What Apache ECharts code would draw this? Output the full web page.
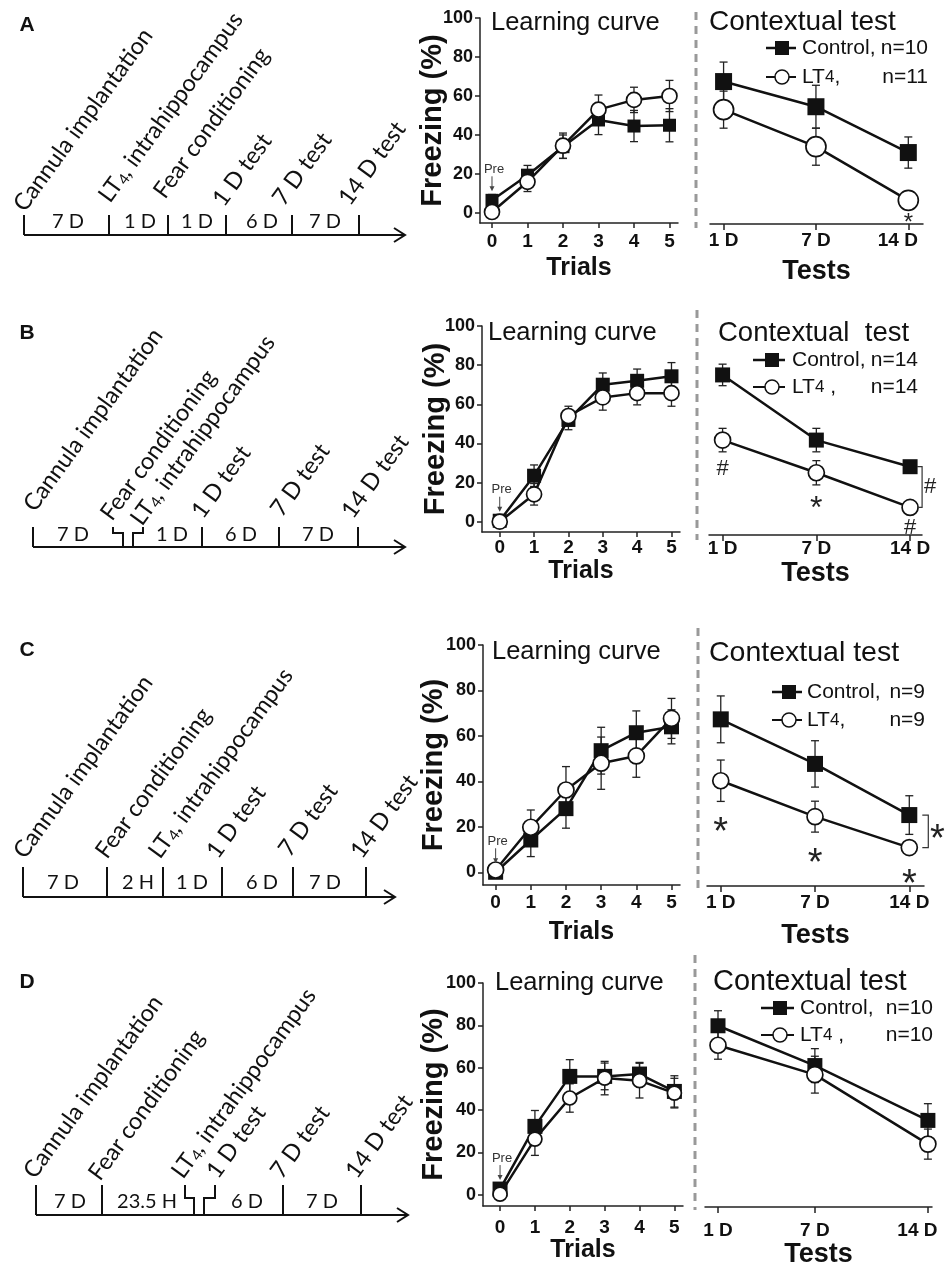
<!DOCTYPE html>
<html>
<head>
<meta charset="utf-8">
<script src="https://cdn.jsdelivr.net/npm/echarts@6/dist/echarts.min.js"></script>
<style>
html, body { margin: 0; padding: 0; background: #fff; }
#main { width: 945px; height: 1267px; }
</style>
</head>
<body>
<div id="main"></div>
<script>
// shared categories
const trials = [0, 1, 2, 3, 4, 5]
const yTicks = [0, 20, 40, 60, 80, 100]
const testLabels = ['1 D', '7 D', '14 D']
const testIdx = [0, 1, 2]
const testDays = [1, 7, 14]

// A
const learnCtrlA = [6.5, 19.4, 34, 47.7, 44.6, 45]
const learnCtrlSemA = [3, 5, 6, 7.5, 8, 8.5]
const learnLt4A = [0.5, 16, 34.5, 53, 58, 60]
const learnLt4SemA = [2, 5, 6.5, 7.5, 6.5, 8]
const testCtrlA = [67.4, 54.5, 31]
const testCtrlSemA = [10, 11, 8]
const testLt4A = [53, 34, 6.5]
const testLt4SemA = [9.5, 9.5, 3]
const sigA = ['', '', '*']
const nA = [10, 11]
const eventsA = ['Cannula implantation', 'LT4, intrahippocampus', 'Fear conditioning', '1 D test', '7 D test', '14 D test']
const spansA = ['7 D', '1 D', '1 D', '6 D', '7 D']

// B
const learnCtrlB = [0.5, 23.5, 52, 70, 72, 74.3]
const learnCtrlSemB = [2, 5.5, 5, 6, 6, 7]
const learnLt4B = [0, 14, 54, 63.5, 65.7, 65.7]
const learnLt4SemB = [2, 5.5, 5, 6.5, 6, 6.7]
const testCtrlB = [75, 41.7, 28.1]
const testCtrlSemB = [5.5, 6, 2]
const testLt4B = [41.7, 25, 7.3]
const testLt4SemB = [6, 6.2, 2]
const sigB = ['#', '*', '#']
const nB = [14, 14]
const eventsB = ['Cannula implantation', 'Fear conditioning', 'LT4, intrahippocampus', '1 D test', '7 D test', '14 D test']
const spansB = ['7 D', '1 D', '6 D', '7 D']

// C
const learnCtrlC = [0, 14.2, 28, 53.5, 61.4, 64]
const learnCtrlSemC = [2, 7.3, 8.6, 10.3, 9.6, 7.5]
const learnLt4C = [1, 19.8, 36.2, 48, 51.2, 67.7]
const learnLt4SemC = [2, 7.6, 10.3, 11.5, 9.4, 8.8]
const testCtrlC = [67.3, 47.7, 25.2]
const testCtrlSemC = [10.3, 10.2, 8.5]
const testLt4C = [40.3, 24.5, 10.9]
const testLt4SemC = [9.1, 6.8, 2.5]
const sigC = ['*', '*', '*']
const nC = [9, 9]
const eventsC = ['Cannula implantation', 'Fear conditioning', 'LT4, intrahippocampus', '1 D test', '7 D test', '14 D test']
const spansC = ['7 D', '2 H', '1 D', '6 D', '7 D']

// D
const learnCtrlD = [2.7, 32.3, 55.9, 55.9, 57, 48.8]
const learnCtrlSemD = [2, 7.5, 7.9, 6.3, 5.5, 7.4]
const learnLt4D = [0.3, 26.3, 45.7, 55.1, 53.9, 48]
const learnLt4SemD = [2, 7.7, 6.7, 7.9, 8.2, 7]
const testCtrlD = [79.8, 61, 35.1]
const testCtrlSemD = [7.1, 8, 7.9]
const testLt4D = [70.6, 56.7, 23.9]
const testLt4SemD = [6.6, 8.7, 7.1]
const nD = [10, 10]
const eventsD = ['Cannula implantation', 'Fear conditioning', 'LT4, intrahippocampus', '1 D test', '7 D test', '14 D test']
const spansD = ['7 D', '23.5 H', '6 D', '7 D']

const FONT = '"Liberation Sans", Arial, sans-serif'
const TL_FONT = 'Lato, "Open Sans", sans-serif'
const INK = '#111'
const ANG = 54 * Math.PI / 180

// layout of each row (pixels)
const layoutA = {
  letter: [27, 25],
  learn: { left: 480, top: 18, width: 198, height: 205, xMin: -0.338, xMax: 5.24, yMin: -5.13, margin: 9, nameGap: 33, yNameGap: 33 },
  test: { left: 710, top: 18, width: 213, height: 206, xMin: -0.147, xMax: 2.159, yMin: -5.64, margin: 7, nameGap: 34, lastPad: 21 },
  sym: { lSq: 13, lCi: 15, tSq: 17, tCi: 20 },
  sig: { gap: 11, star: 24 },
  titles: { learn: [491, 23, 25.5], test: [709, 22, 28, 'Contextual test'] },
  dash: [696, 12, 228],
  legend: { x1: 766, x2: 796, xs: 782, y1: 48, y2: 77, tx: 802, rx: 928, lt: 'LT4,' },
  tl: { y: 235, x0: 24, xEnd: 405, top: 215, ticks: [24, 109, 168, 226, 292, 359], breaks: [], spanX: [68, 140, 197, 262, 325], spanY: 222,
    ev: [[25, 213], [110, 204], [165, 200], [224, 208], [284, 207], [350, 207]] }
}
const layoutB = {
  letter: [27, 333],
  learn: { left: 482, top: 326, width: 198, height: 206, xMin: -0.516, xMax: 5.248, yMin: -5.26, margin: 6, nameGap: 27, yNameGap: 32 },
  test: { left: 709, top: 326, width: 213, height: 209, xMin: -0.145, xMax: 2.127, yMin: -6.8, margin: 4, nameGap: 25, lastPad: 0 },
  sym: { lSq: 14, lCi: 15, tSq: 15, tCi: 16 },
  sig: { gap: 17, star: 32 },
  bracket: { text: '#', dx: 12, arm: 5, tdx: 20 },
  titles: { learn: [488, 333, 25.5], test: [718, 333, 27.5, 'Contextual  test'] },
  dash: [697, 310, 540],
  legend: { x1: 753, x2: 785, xs: 772, y1: 360, y2: 387, tx: 792, rx: 918, lt: 'LT4 ,' },
  tl: { y: 547, x0: 33, xEnd: 405, top: 527, ticks: [33, 202, 279, 358], breaks: [[113, 123, 133, 143]], breakY: 533, spanX: [73, 172, 241, 318], spanY: 535,
    ev: [[35, 513], [112, 522], [142, 527], [203, 520], [282, 518], [353, 520]] }
}
const layoutC = {
  letter: [27, 650],
  learn: { left: 483, top: 645, width: 197, height: 240, xMin: -0.359, xMax: 5.242, yMin: -5.6, margin: 8, nameGap: 35, yNameGap: 34.5 },
  test: { left: 707, top: 645, width: 217, height: 241, xMin: -0.146, xMax: 2.156, yMin: -6.0, margin: 7, nameGap: 36, lastPad: 0 },
  sym: { lSq: 15, lCi: 16, tSq: 16, tCi: 16 },
  sig: { gap: 23, star: 38 },
  bracket: { text: '*', dx: 19, arm: 6, tdx: 28 },
  titles: { learn: [492, 652, 25.5], test: [709, 653, 28.5, 'Contextual test'] },
  dash: [698, 628, 890],
  legend: { x1: 772, x2: 802, xs: 789, y1: 692, y2: 720, tx: 807, rx: 925, lt: 'LT4,' },
  tl: { y: 897, x0: 23, xEnd: 395, top: 867, ticks: [23, 107, 163, 222, 293, 366], breaks: [], spanX: [63, 138, 192, 262, 325], spanY: 883,
    ev: [[25, 860], [107, 860], [160, 860], [218, 860], [290, 858], [362, 860]] }
}
const layoutD = {
  letter: [27, 982],
  learn: { left: 483, top: 983, width: 200, height: 223, xMin: -0.489, xMax: 5.247, yMin: -5.3, margin: 12, nameGap: 32, yNameGap: 34.5 },
  test: { left: 705, top: 983, width: 227, height: 224, xMin: 0.195, xMax: 14.254, yMin: -5.8, margin: 14, nameGap: 32, lastPad: 21 },
  sym: { lSq: 15, lCi: 14, tSq: 15, tCi: 16 },
  titles: { learn: [495, 983, 25.5], test: [713, 982, 29, 'Contextual test'] },
  dash: [695, 955, 1210],
  legend: { x1: 761, x2: 794, xs: 780, y1: 1008, y2: 1035, tx: 800, rx: 933, lt: 'LT4 ,' },
  tl: { y: 1215, x0: 36, xEnd: 408, top: 1185, ticks: [36, 102, 283, 361], breaks: [[185, 194, 204, 215]], breakY: 1198, spanX: [70, 147, 247, 322], spanY: 1202,
    ev: [[35, 1180], [100, 1182], [183, 1180], [218, 1180], [282, 1180], [357, 1180]] }
}

const panels = [
  { name: 'A', lc: learnCtrlA, lcs: learnCtrlSemA, ll: learnLt4A, lls: learnLt4SemA, tc: testCtrlA, tcs: testCtrlSemA, tl: testLt4A, tls: testLt4SemA, tx: testIdx, sig: sigA, n: nA, events: eventsA, spans: spansA, L: layoutA },
  { name: 'B', lc: learnCtrlB, lcs: learnCtrlSemB, ll: learnLt4B, lls: learnLt4SemB, tc: testCtrlB, tcs: testCtrlSemB, tl: testLt4B, tls: testLt4SemB, tx: testIdx, sig: sigB, n: nB, events: eventsB, spans: spansB, L: layoutB },
  { name: 'C', lc: learnCtrlC, lcs: learnCtrlSemC, ll: learnLt4C, lls: learnLt4SemC, tc: testCtrlC, tcs: testCtrlSemC, tl: testLt4C, tls: testLt4SemC, tx: testIdx, sig: sigC, n: nC, events: eventsC, spans: spansC, L: layoutC },
  { name: 'D', lc: learnCtrlD, lcs: learnCtrlSemD, ll: learnLt4D, lls: learnLt4SemD, tc: testCtrlD, tcs: testCtrlSemD, tl: testLt4D, tls: testLt4SemD, tx: testDays, sig: null, n: nD, events: eventsD, spans: spansD, L: layoutD }
]

const axisLine = { color: '#222', width: 1.5 }
const boldText = (size) => ({ fontFamily: FONT, fontWeight: 'bold', fontSize: size, color: INK })
const ltRich = (t) => t.replace('LT4', 'LT{sub|4}')

function errorBars (params, api) {
  const x = api.value(0)
  const v = api.value(1)
  const e = api.value(2)
  const hi = api.coord([x, v + e])
  const lo = api.coord([x, v - e])
  const cap = 4
  const style = { stroke: '#222', lineWidth: 1.3 }
  return {
    type: 'group',
    children: [
      { type: 'line', shape: { x1: hi[0], y1: hi[1], x2: lo[0], y2: lo[1] }, style },
      { type: 'line', shape: { x1: hi[0] - cap, y1: hi[1], x2: hi[0] + cap, y2: hi[1] }, style },
      { type: 'line', shape: { x1: lo[0] - cap, y1: lo[1], x2: lo[0] + cap, y2: lo[1] }, style }
    ]
  }
}

function errSeries (gi, xs, vals, sems) {
  return {
    type: 'custom', xAxisIndex: gi, yAxisIndex: gi, renderItem: errorBars, silent: true, clip: false, z: 2,
    encode: { x: 0, y: 1 },
    data: xs.map((x, i) => [x, vals[i], sems[i]])
  }
}

function lineSeries (name, gi, xs, vals, size, open) {
  return {
    type: 'line', name, xAxisIndex: gi, yAxisIndex: gi, silent: true, clip: false, z: 3,
    data: xs.map((x, i) => [x, vals[i]]),
    symbol: open ? 'circle' : 'rect',
    symbolSize: size,
    showAllSymbol: true,
    lineStyle: { color: INK, width: 2.5 },
    itemStyle: open ? { color: '#fff', borderColor: INK, borderWidth: 1.7 } : { color: INK }
  }
}

// "Pre" marker above trial 0
function preSeries (gi, v) {
  return {
    type: 'custom', xAxisIndex: gi, yAxisIndex: gi, silent: true, clip: false, z: 4,
    encode: { x: 0, y: 1 },
    data: [[trials[0], v]],
    renderItem (params, api) {
      const p = api.coord([api.value(0), api.value(1)])
      return {
        type: 'group',
        children: [
          { type: 'text', x: p[0] + 2, y: p[1] - 31, style: { text: 'Pre', fontFamily: FONT, fontSize: 13, fill: '#333', align: 'center', verticalAlign: 'middle' } },
          { type: 'line', shape: { x1: p[0], y1: p[1] - 24, x2: p[0], y2: p[1] - 12 }, style: { stroke: '#444', lineWidth: 1 } },
          { type: 'polygon', shape: { points: [[p[0] - 2.5, p[1] - 14], [p[0] + 2.5, p[1] - 14], [p[0], p[1] - 9]] }, style: { fill: '#444' } }
        ]
      }
    }
  }
}

// significance marks below the LT4 error bars
function sigSeries (gi, p) {
  const S = p.L.sig
  return {
    type: 'custom', xAxisIndex: gi, yAxisIndex: gi, silent: true, clip: false, z: 4,
    encode: { x: 0, y: 1 },
    data: p.tx.map((x, i) => [x, p.tl[i] - p.tls[i]]),
    renderItem (params, api) {
      const t = p.sig[params.dataIndex]
      const c = api.coord([api.value(0), api.value(1)])
      if (!t) return { type: 'group', children: [] }
      const star = t === '*'
      const fs = star ? S.star : 22
      return {
        type: 'text', x: c[0], y: c[1] + S.gap + (star ? fs * 0.24 : 0),
        style: { text: t, fontFamily: FONT, fontSize: fs, fill: '#222', align: 'center', verticalAlign: 'middle' }
      }
    }
  }
}

// bracket between the two 14 D points
function bracketSeries (gi, p) {
  const B = p.L.bracket
  const last = p.tx.length - 1
  return {
    type: 'custom', xAxisIndex: gi, yAxisIndex: gi, silent: true, clip: false, z: 4,
    encode: { x: 0, y: 1 },
    data: [[p.tx[last], p.tc[last], p.tl[last]]],
    renderItem (params, api) {
      const a = api.coord([api.value(0), api.value(1)])
      const b = api.coord([api.value(0), api.value(2)])
      const x = a[0] + B.dx
      const star = B.text === '*'
      const fs = star ? p.L.sig.star : 22
      return {
        type: 'group',
        children: [
          { type: 'polyline', shape: { points: [[x - B.arm, a[1]], [x, a[1]], [x, b[1]], [x - B.arm, b[1]]] }, style: { stroke: '#333', lineWidth: 1.2, fill: null } },
          { type: 'text', x: a[0] + B.tdx, y: (a[1] + b[1]) / 2 + (star ? fs * 0.24 : 0), style: { text: B.text, fontFamily: FONT, fontSize: fs, fill: '#222', align: 'center', verticalAlign: 'middle' } }
        ]
      }
    }
  }
}

function timeline (events, spans, T) {
  const s = { stroke: INK, lineWidth: 2, fill: null }
  const els = [
    { type: 'line', shape: { x1: T.x0, y1: T.y, x2: T.xEnd, y2: T.y }, style: s },
    { type: 'polyline', shape: { points: [[T.xEnd - 11, T.y - 7], [T.xEnd, T.y], [T.xEnd - 11, T.y + 7]] }, style: s }
  ]
  T.ticks.forEach(x => els.push({ type: 'line', shape: { x1: x, y1: T.y, x2: x, y2: T.top }, style: s }))
  T.breaks.forEach(b => {
    els.push({ type: 'polyline', shape: { points: [[b[0], T.top], [b[0], T.breakY], [b[1], T.breakY], [b[1], T.y]] }, style: s })
    els.push({ type: 'polyline', shape: { points: [[b[2], T.y], [b[2], T.breakY], [b[3], T.breakY], [b[3], T.top]] }, style: s })
  })
  spans.forEach((t, i) => els.push({
    type: 'text', x: T.spanX[i], y: T.spanY,
    style: { text: t, fontFamily: TL_FONT, fontSize: 20, fill: INK, align: 'center', verticalAlign: 'middle' }
  }))
  events.forEach((t, i) => els.push({
    type: 'text', x: T.ev[i][0] + 3.6, y: T.ev[i][1] + 2.6, rotation: ANG,
    style: {
      text: ltRich(t), fontFamily: TL_FONT, fontSize: 23.5, fill: INK, align: 'left', verticalAlign: 'bottom',
      rich: { sub: { fontFamily: TL_FONT, fontSize: 15, fill: INK, verticalAlign: 'bottom' } }
    }
  }))
  return els
}

function legend (n, G) {
  const txt = (x, y, text, align) => ({
    type: 'text', x, y,
    style: { text, fontFamily: FONT, fontSize: 21, fill: INK, align, verticalAlign: 'middle', rich: { sub: { fontFamily: FONT, fontSize: 17, fill: INK } } }
  })
  return [
    { type: 'line', shape: { x1: G.x1, y1: G.y1, x2: G.x2, y2: G.y1 }, style: { stroke: INK, lineWidth: 2.5 } },
    { type: 'rect', shape: { x: G.xs - 7, y: G.y1 - 7, width: 14, height: 14 }, style: { fill: INK } },
    txt(G.tx, G.y1, 'Control,', 'left'),
    txt(G.rx, G.y1, 'n=' + n[0], 'right'),
    { type: 'line', shape: { x1: G.x1, y1: G.y2, x2: G.x2, y2: G.y2 }, style: { stroke: INK, lineWidth: 2 } },
    { type: 'circle', shape: { cx: G.xs, cy: G.y2, r: 7 }, style: { fill: '#fff', stroke: INK, lineWidth: 1.5 } },
    txt(G.tx, G.y2, ltRich(G.lt), 'left'),
    txt(G.rx, G.y2, 'n=' + n[1], 'right')
  ]
}

const option = { animation: false, backgroundColor: '#fff', grid: [], xAxis: [], yAxis: [], series: [], graphic: [] }

panels.forEach((p, i) => {
  const gl = i * 2
  const gt = i * 2 + 1
  const L = p.L
  const last = p.tx[p.tx.length - 1]
  option.grid.push(
    { left: L.learn.left, top: L.learn.top, width: L.learn.width, height: L.learn.height, outerBoundsMode: 'none' },
    { left: L.test.left, top: L.test.top, width: L.test.width, height: L.test.height, outerBoundsMode: 'none' }
  )
  option.xAxis.push({
    type: 'value', gridIndex: gl, min: L.learn.xMin, max: L.learn.xMax,
    name: 'Trials', nameLocation: 'middle', nameGap: L.learn.nameGap, nameTextStyle: boldText(25),
    axisLine: { show: true, onZero: false, lineStyle: axisLine },
    axisTick: { show: true, customValues: trials, length: 5, lineStyle: axisLine },
    axisLabel: Object.assign({ customValues: trials, margin: L.learn.margin }, boldText(19)),
    splitLine: { show: false }
  }, {
    type: 'value', gridIndex: gt, min: L.test.xMin, max: L.test.xMax,
    name: 'Tests', nameLocation: 'middle', nameGap: L.test.nameGap, nameTextStyle: boldText(27),
    axisLine: { show: true, onZero: false, lineStyle: axisLine },
    axisTick: { show: true, customValues: p.tx, length: 6, lineStyle: axisLine },
    axisLabel: Object.assign({
      customValues: p.tx,
      margin: L.test.margin,
      formatter: v => v === last ? '{r|' + testLabels[p.tx.indexOf(v)] + '}' : testLabels[p.tx.indexOf(v)],
      rich: { r: Object.assign({ padding: [0, L.test.lastPad, 0, 0] }, boldText(19)) }
    }, boldText(19)),
    splitLine: { show: false }
  })
  option.yAxis.push({
    type: 'value', gridIndex: gl, min: L.learn.yMin, max: 100,
    name: 'Freezing (%)', nameLocation: 'middle', nameGap: L.learn.yNameGap, nameMoveOverlap: false, nameTextStyle: boldText(29),
    axisLine: { show: true, onZero: false, lineStyle: axisLine },
    axisTick: { show: true, customValues: yTicks, length: 5, lineStyle: axisLine },
    axisLabel: Object.assign({ customValues: yTicks, margin: 7 }, boldText(18)),
    splitLine: { show: false }
  }, {
    type: 'value', gridIndex: gt, min: L.test.yMin, max: 100, show: false,
    splitLine: { show: false }
  })

  option.series.push(
    errSeries(gl, trials, p.lc, p.lcs),
    errSeries(gl, trials, p.ll, p.lls),
    lineSeries('Control', gl, trials, p.lc, L.sym.lSq, false),
    lineSeries('LT4', gl, trials, p.ll, L.sym.lCi, true),
    preSeries(gl, p.lc[0]),
    errSeries(gt, p.tx, p.tc, p.tcs),
    errSeries(gt, p.tx, p.tl, p.tls),
    lineSeries('Control', gt, p.tx, p.tc, L.sym.tSq, false),
    lineSeries('LT4', gt, p.tx, p.tl, L.sym.tCi, true)
  )
  if (p.sig) option.series.push(sigSeries(gt, p))
  if (L.bracket) option.series.push(bracketSeries(gt, p))

  const title = (t) => ({ type: 'text', x: t[0], y: t[1], style: { text: t[3] || 'Learning curve', fontFamily: FONT, fontSize: t[2], fill: INK, align: 'left', verticalAlign: 'middle' } })
  option.graphic.push(
    { type: 'text', x: L.letter[0], y: L.letter[1], style: { text: p.name, fontFamily: FONT, fontWeight: 'bold', fontSize: 21, fill: INK, align: 'center', verticalAlign: 'middle' } },
    title(L.titles.learn),
    title(L.titles.test),
    { type: 'line', shape: { x1: L.dash[0], y1: L.dash[1], x2: L.dash[0], y2: L.dash[2] }, style: { stroke: '#999', lineWidth: 3, lineDash: [8, 6] } },
    ...legend(p.n, L.legend),
    ...timeline(p.events, p.spans, L.tl)
  )
})

const chart = echarts.init(document.getElementById('main'))
chart.setOption(option)
</script>
</body>
</html>
